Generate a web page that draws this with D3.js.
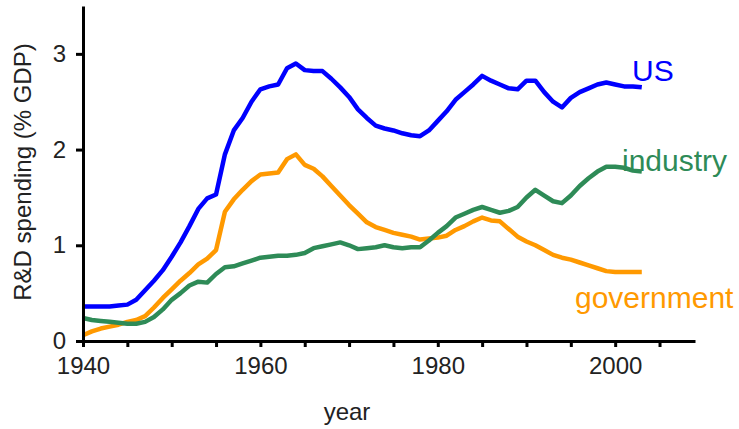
<!DOCTYPE html>
<html>
<head>
<meta charset="utf-8">
<script src="https://cdn.jsdelivr.net/npm/d3@7"></script>
<style>
  body { margin: 0; background: #fff; }
  svg text { font-family: "Liberation Sans", Arial, sans-serif; }
  .axis path, .axis line { stroke: #000; stroke-width: 3; }
  .axis text { fill: #222; font-size: 24px; }
</style>
</head>
<body>
<div id="chart"></div>
<script>
// R&D spending as % of GDP
var years = d3.range(1940, 2004);

var usSpend = [0.36, 0.36, 0.36, 0.36, 0.37, 0.38, 0.43, 0.53, 0.63, 0.74,
  0.88, 1.03, 1.2, 1.38, 1.49, 1.53, 1.95, 2.2, 2.33, 2.5,
  2.63, 2.66, 2.68, 2.85, 2.9, 2.83, 2.82, 2.82, 2.74, 2.65,
  2.55, 2.42, 2.33, 2.25, 2.22, 2.2, 2.17, 2.15, 2.14, 2.2,
  2.3, 2.4, 2.52, 2.6, 2.68, 2.77, 2.72, 2.68, 2.64, 2.63,
  2.72, 2.72, 2.6, 2.5, 2.44, 2.54, 2.6, 2.64, 2.68, 2.7,
  2.68, 2.66, 2.66, 2.65];

var govSpend = [0.06, 0.1, 0.13, 0.15, 0.17, 0.2, 0.22, 0.26, 0.35, 0.45,
  0.54, 0.63, 0.71, 0.8, 0.86, 0.95, 1.35, 1.48, 1.58, 1.67,
  1.74, 1.75, 1.76, 1.9, 1.95, 1.84, 1.8, 1.72, 1.62, 1.52,
  1.42, 1.33, 1.24, 1.19, 1.16, 1.13, 1.11, 1.09, 1.06, 1.07,
  1.08, 1.1, 1.16, 1.2, 1.25, 1.29, 1.26, 1.25, 1.17, 1.09,
  1.04, 1.0, 0.95, 0.9, 0.87, 0.85, 0.82, 0.79, 0.76, 0.73,
  0.72, 0.72, 0.72, 0.72];

var indSpend = [0.24, 0.22, 0.21, 0.2, 0.19, 0.18, 0.18, 0.2, 0.25, 0.33,
  0.43, 0.5, 0.58, 0.62, 0.61, 0.7, 0.77, 0.78, 0.81, 0.84,
  0.87, 0.88, 0.89, 0.89, 0.9, 0.92, 0.97, 0.99, 1.01, 1.03,
  1.0, 0.96, 0.97, 0.98, 1.0, 0.98, 0.97, 0.98, 0.98, 1.05,
  1.13, 1.2, 1.29, 1.33, 1.37, 1.4, 1.37, 1.34, 1.36, 1.4,
  1.5, 1.58, 1.52, 1.46, 1.44, 1.52, 1.62, 1.7, 1.77, 1.82,
  1.82, 1.81, 1.78, 1.77];

var xTicks = d3.range(1940, 2006, 5);
var xLabels = [1940, 1960, 1980, 2000];
var yTicks = [0, 1, 2, 3];

var series = [
  {name: "US", values: usSpend, color: "#0000ff", lx: 632, ly: 81},
  {name: "industry", values: indSpend, color: "#2e8b57", lx: 622, ly: 171},
  {name: "government", values: govSpend, color: "#ff9900", lx: 575, ly: 308}
];

// SETUP
var width = 739, height = 429;

var x = d3.scaleLinear().domain([1940, 2009]).range([83, 695]);
var y = d3.scaleLinear().domain([0, 3.5]).range([341, 6]);

var svg = d3.select("#chart").append("svg")
    .attr("width", width)
    .attr("height", height);

var line = d3.line()
    .x(function(d) { return x(d[0]); })
    .y(function(d) { return y(d[1]); });

// lines, government first so US sits on top
series.slice().reverse().forEach(function(s) {
  svg.append("path")
    .datum(years.map(function(yr, i) { return [yr, s.values[i]]; }))
    .attr("d", line)
    .attr("fill", "none")
    .attr("stroke", s.color)
    .attr("stroke-width", 4.5)
    .attr("stroke-linejoin", "round");

  svg.append("text")
    .attr("x", s.lx)
    .attr("y", s.ly)
    .attr("fill", s.color)
    .style("font-size", "30px")
    .text(s.name);
});

// axes
svg.append("g")
    .attr("class", "axis")
    .attr("transform", "translate(0," + y(0) + ")")
    .call(d3.axisBottom(x)
      .tickValues(xTicks)
      .tickSize(6)
      .tickSizeOuter(0)
      .tickPadding(10)
      .tickFormat(function(d) { return xLabels.indexOf(d) >= 0 ? d : ""; }));

svg.append("g")
    .attr("class", "axis")
    .attr("transform", "translate(" + x(1940) + ",0)")
    .call(d3.axisLeft(y)
      .tickValues(yTicks)
      .tickSize(7)
      .tickSizeOuter(0)
      .tickPadding(10)
      .tickFormat(d3.format("d")));

// axis titles
svg.append("text")
    .attr("x", 347)
    .attr("y", 420)
    .attr("text-anchor", "middle")
    .attr("fill", "#222")
    .style("font-size", "24px")
    .text("year");

svg.append("text")
    .attr("transform", "translate(31,172) rotate(-90)")
    .attr("text-anchor", "middle")
    .attr("fill", "#222")
    .style("font-size", "24px")
    .text("R&D spending (% GDP)");
</script>
</body>
</html>
